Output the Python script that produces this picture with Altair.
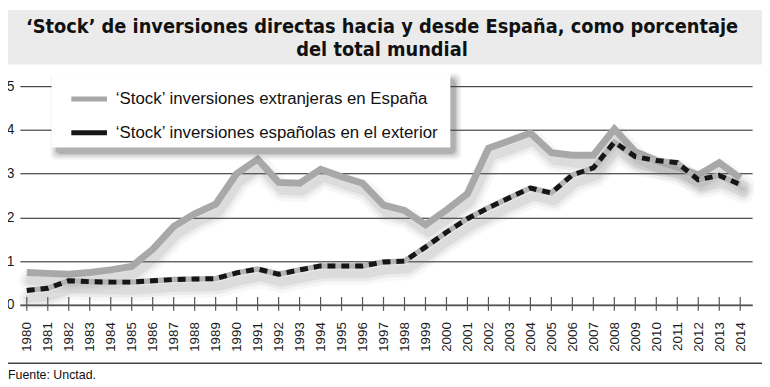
import altair as alt
import pandas as pd

years = list(range(1980, 2015))
extranjeras = [0.74, 0.72, 0.70, 0.74, 0.80, 0.88, 1.27, 1.79, 2.08, 2.30,
               3.00, 3.33, 2.80, 2.78, 3.10, 2.93, 2.78, 2.28, 2.16, 1.83,
               2.17, 2.54, 3.58, 3.75, 3.93, 3.48, 3.42, 3.42, 4.02, 3.50,
               3.30, 3.15, 2.97, 3.25, 2.90]
espanolas = [0.33, 0.38, 0.55, 0.53, 0.52, 0.52, 0.55, 0.58, 0.59, 0.60,
             0.73, 0.82, 0.70, 0.80, 0.89, 0.89, 0.89, 0.98, 1.00, 1.32,
             1.66, 1.97, 2.22, 2.45, 2.67, 2.56, 2.97, 3.13, 3.72, 3.39,
             3.30, 3.25, 2.86, 2.96, 2.75]
serie_names = ["\u2018Stock\u2019 inversiones extranjeras en Espa\u00f1a",
               "\u2018Stock\u2019 inversiones espa\u00f1olas en el exterior"]
serie_colors = ["#a8a8a8", "#161616"]
title_lines = ["\u2018Stock\u2019 de inversiones directas hacia y desde Espa\u00f1a, como porcentaje",
               "del total mundial"]
source_text = "Fuente: Unctad."
y_ticks = [0, 1, 2, 3, 4, 5]

rows = []
for i, yr in enumerate(years):
    rows.append({"year": yr, "value": extranjeras[i], "serie": serie_names[0]})
    rows.append({"year": yr, "value": espanolas[i], "serie": serie_names[1]})
df = pd.DataFrame(rows)
df_esp = df[df.serie == serie_names[1]]
df_ext = df[df.serie == serie_names[0]]
df_years = pd.DataFrame({"year": years})
one = pd.DataFrame({"k": [0]})

W, H = 740, 221
PAD_L, PAD_T, PAD_R, PAD_B = 12, 77, 10, 81
RIGHT = W + PAD_R
FONT = "Liberation Sans, Arial, Helvetica, sans-serif"
TFONT = "Liberation Sans Narrow, DejaVu Sans Condensed, Liberation Sans, sans-serif"

xenc = alt.X("year:Q",
             scale=alt.Scale(domain=[1979.67, 2014.566], nice=False, zero=False),
             axis=alt.Axis(values=years, format="d", labelAngle=270, labelFontSize=13.5,
                           labelFont=FONT, labelColor="#1a1a1a", labelPadding=17,
                           ticks=False, grid=False, domainColor="#555555", domainWidth=1.6,
                           title=None, labelOverlap=False, labelFlush=False))
yenc = alt.Y("value:Q",
             scale=alt.Scale(domain=[0, 5], nice=False),
             axis=alt.Axis(values=y_ticks, grid=True, gridColor="#1e1e1e", gridWidth=1,
                           domain=False, ticks=False, labelFontSize=14, labelFont=FONT,
                           labelColor="#1a1a1a", labelPadding=6, title=None))

color = alt.Color("serie:N",
                  scale=alt.Scale(domain=serie_names, range=serie_colors),
                  legend=None)

# title band
title_bg = alt.Chart(one).mark_rect(color="#ebebeb").encode(
    x=alt.value(-PAD_L), x2=alt.value(RIGHT), y=alt.value(-77), y2=alt.value(-22))
t1 = alt.Chart(pd.DataFrame({"t": [title_lines[0]]})).mark_text(
    font=TFONT, fontWeight="bold", fontSize=20, color="#111111", align="center",
    baseline="alphabetic").encode(text="t:N", x=alt.value(366), y=alt.value(-54))
t2 = alt.Chart(pd.DataFrame({"t": [title_lines[1]]})).mark_text(
    font=TFONT, fontWeight="bold", fontSize=20, color="#111111", align="center",
    baseline="alphabetic").encode(text="t:N", x=alt.value(366), y=alt.value(-30))

# legend box with soft shadow
LX0, LX1, LY0, LY1 = 32, 435, -13, 62
leg_layers = []
for d, op in [(12, 0.07), (8, 0.10), (4, 0.14), (1, 0.18)]:
    leg_layers.append(alt.Chart(one).mark_rect(color="#444444", opacity=op, cornerRadius=5).encode(
        x=alt.value(LX0 + 5 - d / 2), x2=alt.value(LX1 + 5 + d / 2),
        y=alt.value(LY0 + 6 - d / 2), y2=alt.value(LY1 + 6 + d / 2)))
leg_layers.append(alt.Chart(one).mark_rect(color="white").encode(
    x=alt.value(LX0), x2=alt.value(LX1), y=alt.value(LY0), y2=alt.value(LY1)))
for i, (name, col) in enumerate(zip(serie_names, serie_colors)):
    yy = 13 + 34 * i
    leg_layers.append(alt.Chart(one).mark_rule(color=col, strokeWidth=5).encode(
        x=alt.value(52), x2=alt.value(88), y=alt.value(yy)))
    leg_layers.append(alt.Chart(pd.DataFrame({"t": [name]})).mark_text(
        font=FONT, fontSize=17, color="#111111", align="left", baseline="middle").encode(
        text="t:N", x=alt.value(97), y=alt.value(yy)))

ticks = alt.Chart(df_years).mark_rule(color="#555555", strokeWidth=1.2).encode(
    x=xenc, y=alt.value(213), y2=alt.value(227))

shadows = []
for sw, op in [(22, 0.05), (15, 0.08), (9, 0.11)]:
    shadows.append(alt.Chart(df).mark_line(color="#666666", opacity=op, strokeWidth=sw,
                                           xOffset=3, yOffset=8, strokeJoin="round",
                                           strokeCap="round").encode(
        x=xenc, y=yenc, detail="serie:N"))

line_ext = alt.Chart(df_ext).mark_line(strokeWidth=7, strokeJoin="miter").encode(
    x=xenc, y=yenc, color=color)
base_esp = alt.Chart(df_esp).mark_line(strokeWidth=5.5, color="#b4b4b4").encode(
    x=xenc, y=yenc)
line_esp = alt.Chart(df_esp).mark_line(strokeWidth=5, strokeDash=[8, 6]).encode(
    x=xenc, y=yenc, color=color)

bottom_rule = alt.Chart(one).mark_rule(color="#444444", strokeWidth=1.5).encode(
    x=alt.value(-PAD_L), x2=alt.value(RIGHT), y=alt.value(280))
source = alt.Chart(pd.DataFrame({"t": [source_text]})).mark_text(
    font=FONT, fontSize=12.5, color="#111111", align="left", baseline="alphabetic").encode(
    text="t:N", x=alt.value(-PAD_L), y=alt.value(296))

chart = alt.layer(title_bg, t1, t2, ticks, *shadows, line_ext, base_esp,
                  line_esp, *leg_layers, bottom_rule, source).properties(
    width=W, height=H,
    autosize=alt.AutoSizeParams(type="none"),
    padding={"left": PAD_L, "top": PAD_T, "right": PAD_R, "bottom": PAD_B},
    background="white",
).configure_view(stroke=None)

chart.save("out.html", embed_options={"renderer": "svg", "actions": False})
